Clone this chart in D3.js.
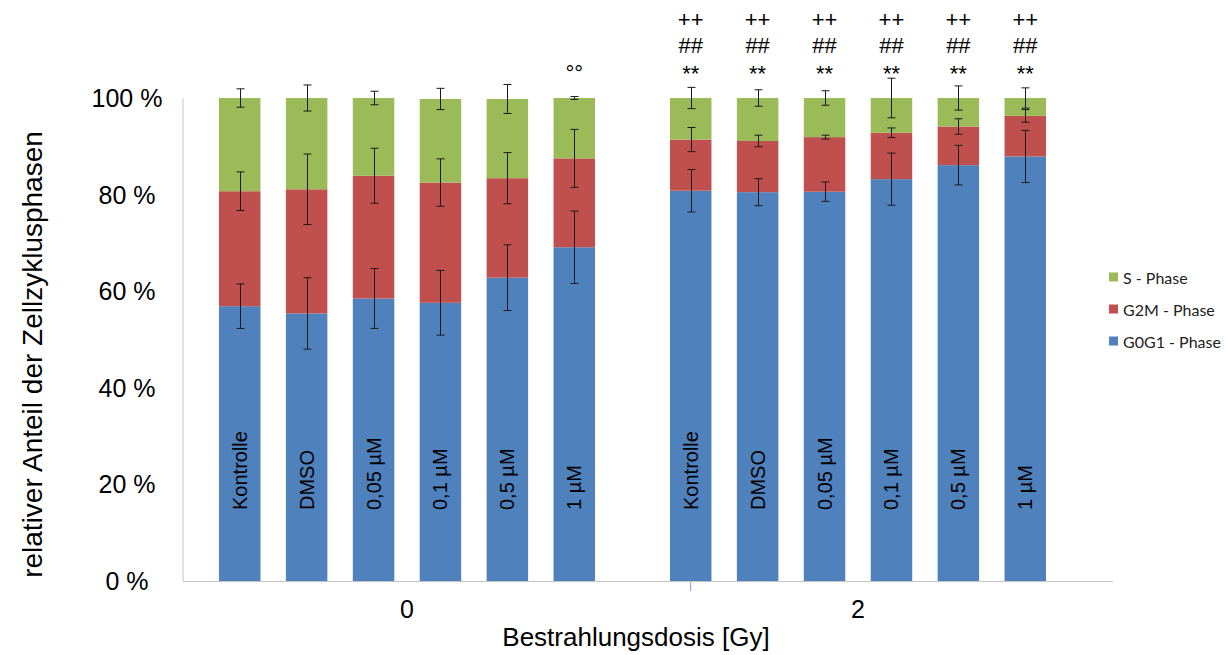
<!DOCTYPE html>
<html>
<head>
<meta charset="utf-8">
<script src="https://cdn.jsdelivr.net/npm/d3@7"></script>
<style>
  html, body { margin: 0; padding: 0; background: #ffffff; }
  svg { display: block; }
</style>
</head>
<body>
<svg id="chart" width="1226" height="655"></svg>
<script>
// ---------- data ----------
const doses = ["0", "2"];
const conditions = ["Kontrolle", "DMSO", "0,05 µM", "0,1 µM", "0,5 µM", "1 µM"];
const seriesNames = ["G0G1 - Phase", "G2M - Phase", "S - Phase"];
const yTicks = [0, 20, 40, 60, 80, 100];

// values (%) in order: dose 0 (6 conditions), dose 2 (6 conditions)
const g0g1Values = [56.9, 55.4, 58.5, 57.6, 62.8, 69.1, 80.8, 80.5, 80.6, 83.2, 86.1, 87.9];
const g2mValues  = [23.8, 25.7, 25.4, 24.9, 20.6, 18.4, 10.6, 10.6, 11.3, 9.6, 8.0, 8.4];
const sValues    = [19.3, 18.9, 16.1, 17.3, 16.4, 12.5, 8.6, 8.9, 8.1, 7.2, 5.9, 3.7];

const g0g1Errors = [4.6, 7.4, 6.2, 6.7, 6.8, 7.5, 4.4, 2.8, 2.0, 5.4, 4.1, 5.4];
const g2mErrors  = [4.0, 7.3, 5.7, 4.9, 5.3, 6.0, 2.5, 1.2, 0.4, 1.0, 1.6, 1.3];
const sErrors    = [1.9, 2.7, 1.4, 2.2, 3.0, 0.3, 2.2, 1.7, 1.5, 4.1, 2.5, 2.1];

// significance marks above the bars (three rows)
const plusMarks = ["", "", "", "", "", "", "++", "++", "++", "++", "++", "++"];
const hashMarks = ["", "", "", "", "", "", "##", "##", "##", "##", "##", "##"];
const starMarks = ["", "", "", "", "", "°°", "**", "**", "**", "**", "**", "**"];

const colors = { "G0G1 - Phase": "#4F81BD", "G2M - Phase": "#C0504D", "S - Phase": "#9BBB59" };

// ---------- build rows ----------
const rows = [];
doses.forEach((d, gi) => {
  conditions.forEach((c, ci) => {
    const i = gi * conditions.length + ci;
    rows.push({
      dose: d, cond: c,
      "G0G1 - Phase": g0g1Values[i], "G2M - Phase": g2mValues[i], "S - Phase": sValues[i],
      err: { "G0G1 - Phase": g0g1Errors[i], "G2M - Phase": g2mErrors[i], "S - Phase": sErrors[i] },
      plus: plusMarks[i], hash: hashMarks[i], star: starMarks[i]
    });
  });
});

const stack = d3.stack().keys(seriesNames)(rows);

// ---------- scales ----------
const svg = d3.select("#chart");
const font = "'Liberation Sans', Arial, sans-serif";

const y = d3.scaleLinear().domain([0, 100]).range([581, 98]);
const xOuter = d3.scaleBand().domain(doses).range([181.5, 1083.5]).padding(0);
const xInner = d3.scaleBand().domain(conditions).range([0, xOuter.bandwidth()])
  .paddingInner(0.38).paddingOuter(0.56);
const xBar = r => xOuter(r.dose) + xInner(r.cond);
const bw = xInner.bandwidth();

const plotLeft = 183, plotRight = 1113;

// ---------- axes lines ----------
svg.append("line").attr("x1", plotLeft).attr("x2", plotLeft)
  .attr("y1", y(100)).attr("y2", y(0)).attr("stroke", "#c4c4c4").attr("stroke-width", 1);
svg.append("line").attr("x1", plotLeft).attr("x2", plotRight)
  .attr("y1", y(0) + 0.5).attr("y2", y(0) + 0.5).attr("stroke", "#c4c4c4").attr("stroke-width", 1);

// y tick labels
svg.append("g").selectAll("text").data(yTicks).join("text")
  .attr("x", 127).attr("y", d => y(d))
  .attr("text-anchor", "middle").attr("dominant-baseline", "central")
  .attr("font-family", font).attr("font-size", 25).attr("fill", "#000")
  .text(d => d + " %");

// y title
svg.append("text")
  .attr("transform", `translate(32,${(y(0) + y(100)) / 2 + 15}) rotate(-90)`)
  .attr("text-anchor", "middle").attr("dominant-baseline", "central")
  .attr("font-family", font).attr("font-size", 28).attr("fill", "#000")
  .text("relativer Anteil der Zellzyklusphasen");

// x category labels
svg.append("g").selectAll("text").data(doses).join("text")
  .attr("x", d => xOuter(d) + xOuter.bandwidth() / 2)
  .attr("y", 609)
  .attr("text-anchor", "middle").attr("dominant-baseline", "central")
  .attr("font-family", font).attr("font-size", 25).attr("fill", "#000")
  .text(d => d);

// small tick under first bar of second group
svg.append("line")
  .attr("x1", xOuter(doses[1]) + xInner(conditions[0]) + bw / 2)
  .attr("x2", xOuter(doses[1]) + xInner(conditions[0]) + bw / 2)
  .attr("y1", y(0) + 1).attr("y2", y(0) + 10)
  .attr("stroke", "#7fa2d0").attr("stroke-width", 1);

// x title
svg.append("text")
  .attr("x", 636).attr("y", 646)
  .attr("text-anchor", "middle")
  .attr("font-family", font).attr("font-size", 26).attr("fill", "#000")
  .text("Bestrahlungsdosis [Gy]");

// ---------- bars ----------
const layers = svg.append("g").selectAll("g").data(stack).join("g")
  .attr("fill", d => colors[d.key]);
layers.selectAll("rect").data(d => d).join("rect")
  .attr("x", d => xBar(d.data))
  .attr("width", bw)
  .attr("y", d => y(d[1]))
  .attr("height", d => y(d[0]) - y(d[1]));

// ---------- error bars ----------
const errG = svg.append("g").attr("stroke", "#1a1a1a").attr("stroke-width", 1);
stack.forEach(layer => {
  layer.forEach(d => {
    const e = d.data.err[layer.key];
    const cx = Math.round(xBar(d.data) + bw / 2) + 0.5;
    const top = y(d[1] + e), bot = y(d[1] - e);
    errG.append("line").attr("x1", cx).attr("x2", cx).attr("y1", top).attr("y2", bot);
    errG.append("line").attr("x1", cx - 4).attr("x2", cx + 4).attr("y1", top).attr("y2", top);
    errG.append("line").attr("x1", cx - 4).attr("x2", cx + 4).attr("y1", bot).attr("y2", bot);
  });
});

// ---------- rotated condition labels inside bars ----------
svg.append("g").selectAll("text").data(rows).join("text")
  .attr("transform", d => `translate(${xBar(d) + bw / 2},510) rotate(-90)`)
  .attr("text-anchor", "start").attr("dominant-baseline", "central")
  .attr("font-family", font).attr("font-size", 20).attr("fill", "#000")
  .text(d => d.cond);

// ---------- significance marks ----------
const markRows = [["plus", 27], ["hash", 53], ["star", 81]];
markRows.forEach(([k, base]) => {
  svg.append("g").selectAll("text").data(rows.filter(r => r[k] !== "")).join("text")
    .attr("x", d => xBar(d) + bw / 2)
    .attr("y", base)
    .attr("text-anchor", "middle")
    .attr("font-family", font).attr("font-size", 22).attr("fill", "#000")
    .text(d => d[k]);
});

// ---------- legend ----------
const legendOrder = ["S - Phase", "G2M - Phase", "G0G1 - Phase"];
const legY = d3.scalePoint().domain(legendOrder).range([277, 341]);
const leg = svg.append("g").selectAll("g").data(legendOrder).join("g")
  .attr("transform", d => `translate(1109,${legY(d)})`);
leg.append("rect").attr("x", 0).attr("y", -4.5).attr("width", 9).attr("height", 9)
  .attr("fill", d => colors[d]);
leg.append("text").attr("x", 14).attr("y", 0)
  .attr("dominant-baseline", "central")
  .attr("font-family", "Lato, 'Open Sans', sans-serif").attr("font-size", 16).attr("fill", "#222")
  .text(d => d);
</script>
</body>
</html>
